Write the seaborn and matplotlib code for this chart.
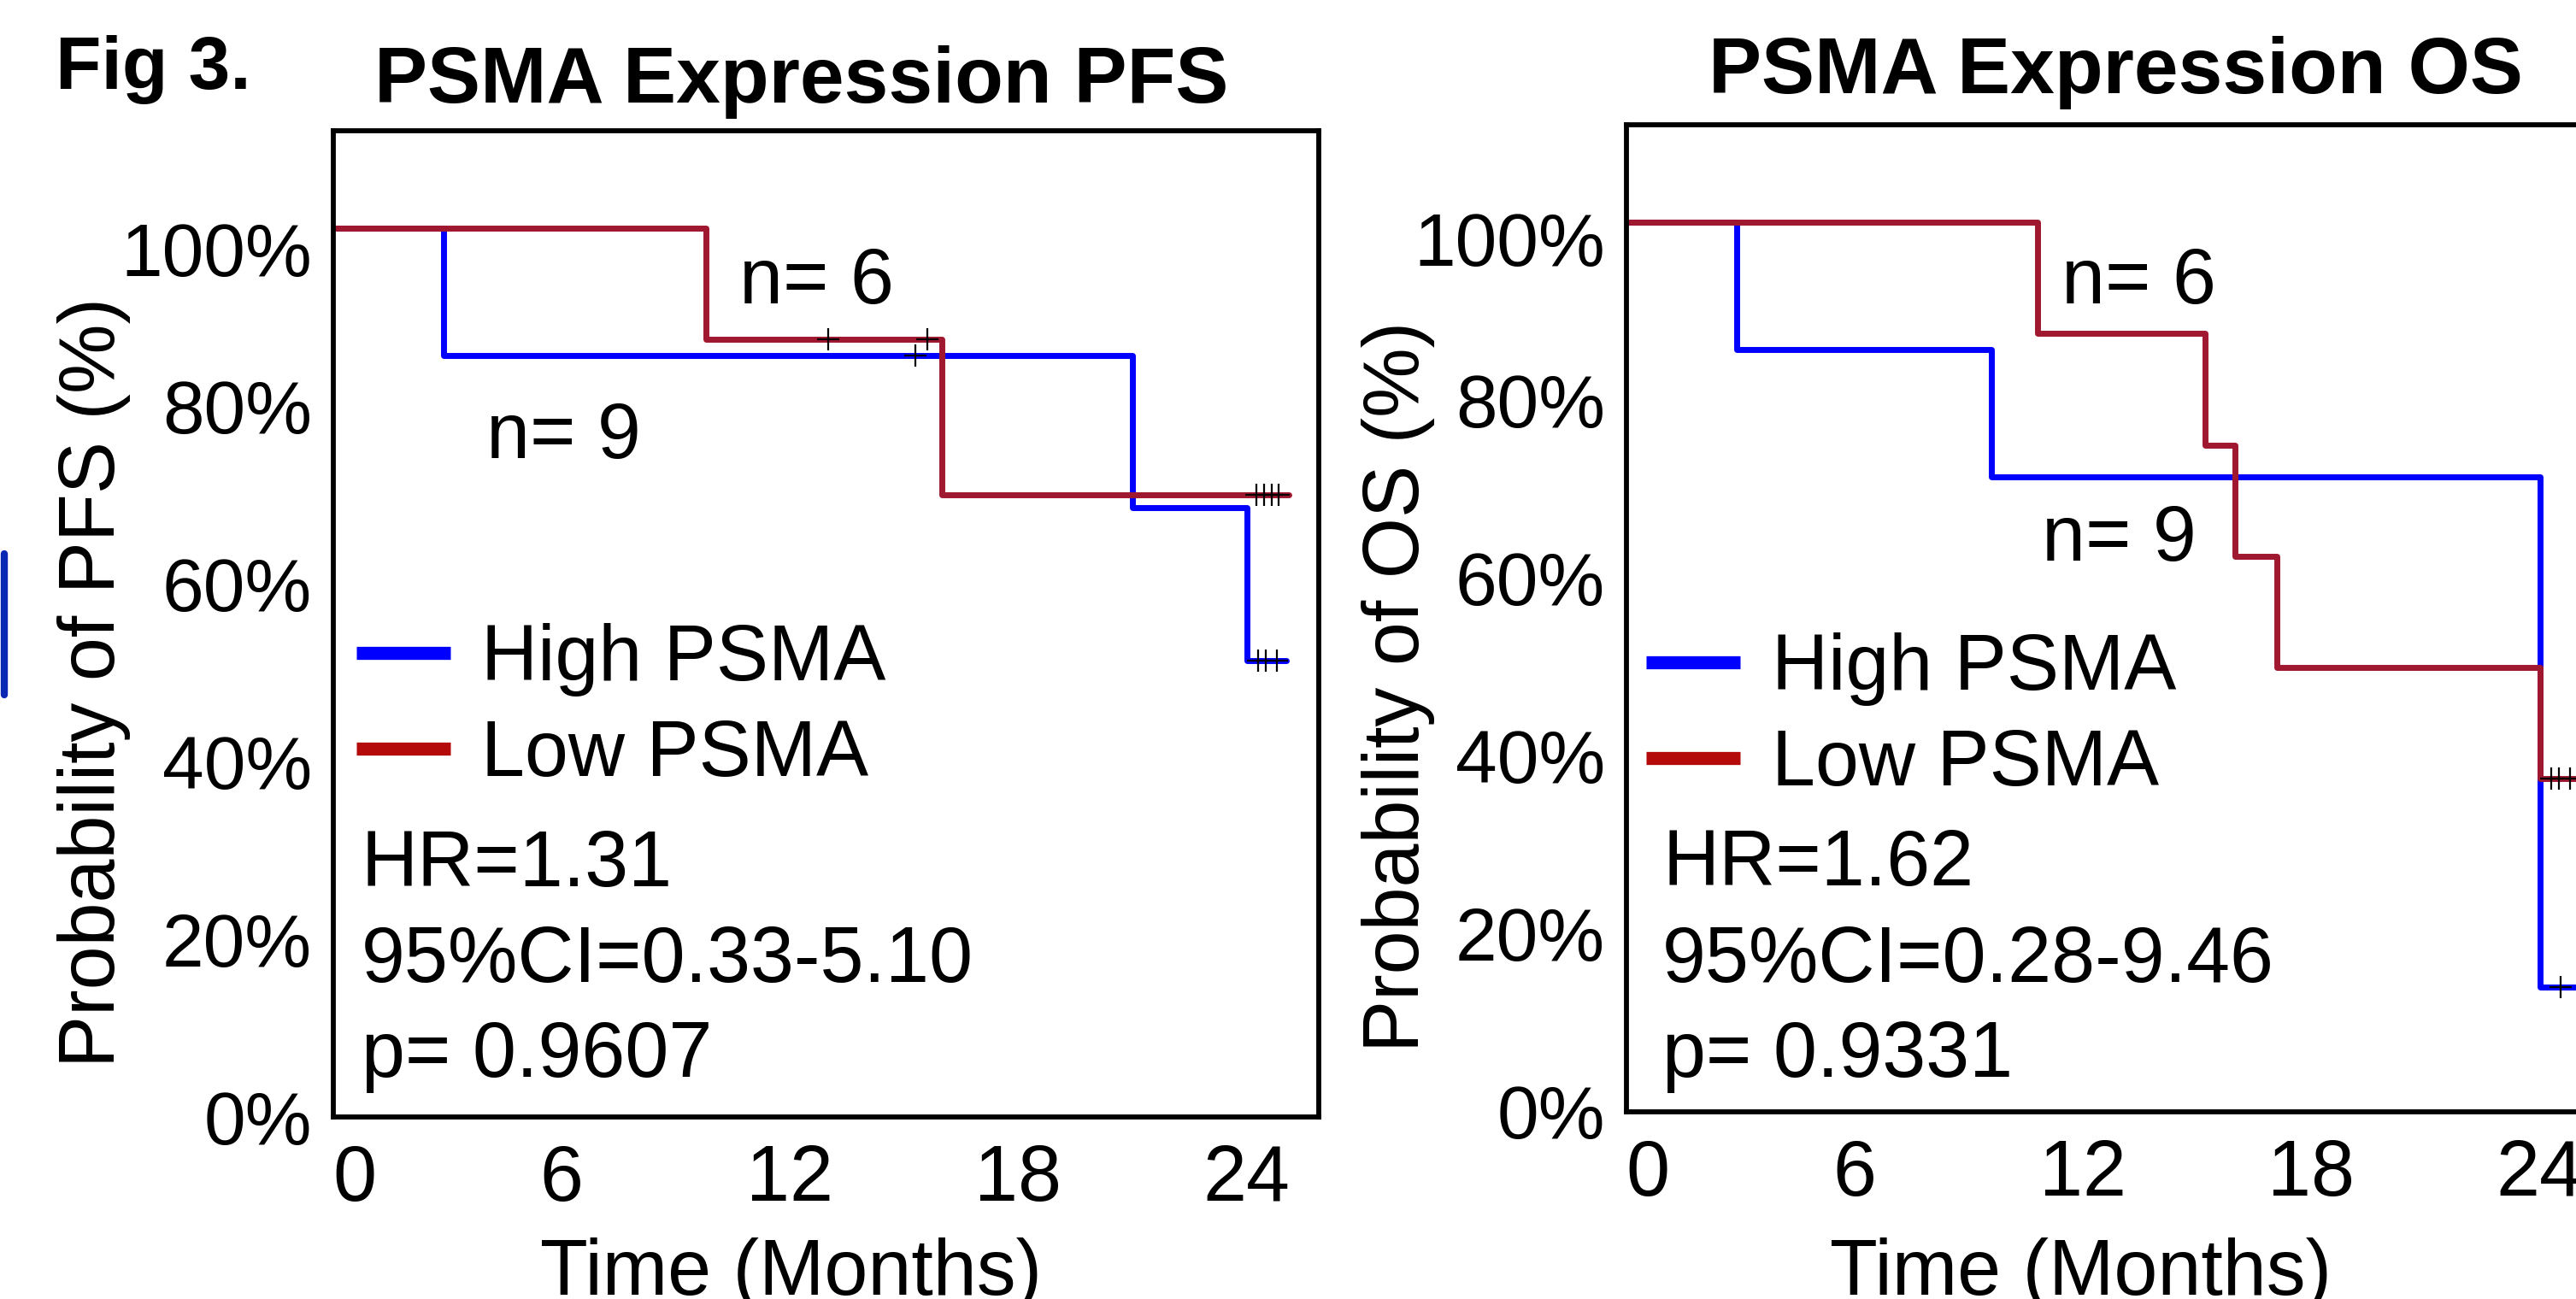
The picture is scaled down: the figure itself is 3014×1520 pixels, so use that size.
import numpy as np
import pandas as pd
import matplotlib.pyplot as plt
import matplotlib.transforms as mtransforms
import seaborn as sns
from matplotlib.lines import Line2D

sns.set_style('white')
plt.rcParams['font.family'] = ['Liberation Sans', 'DejaVu Sans']
plt.rcParams['text.color'] = 'black'
plt.rcParams['axes.labelcolor'] = 'black'
plt.rcParams['xtick.color'] = 'black'
plt.rcParams['ytick.color'] = 'black'

# PFS panel (months, % surviving)
pfs_high_t = [0, 2.9, 21.0, 24.0, 25.05]
pfs_high_s = [100, 85.7, 68.6, 51.4, 51.4]
pfs_low_t = [0, 9.8, 16.0, 25.1]
pfs_low_s = [100, 87.5, 70.0, 70.0]
pfs_high_cens_t = [15.3, 24.3, 24.5, 24.8]
pfs_high_cens_s = [85.7, 51.4, 51.4, 51.4]
pfs_low_cens_t = [13.0, 15.6, 24.25, 24.45, 24.65, 24.85]
pfs_low_cens_s = [87.5, 87.5, 70.0, 70.0, 70.0, 70.0]

# OS panel
os_high_t = [0, 2.9, 9.6, 24.0, 25.1]
os_high_s = [100, 85.7, 71.4, 14.0, 14.0]
os_low_t = [0, 10.8, 15.2, 16.0, 17.1, 24.0, 25.1]
os_low_s = [100, 87.5, 75.0, 62.5, 50.0, 37.5, 37.5]
os_high_cens_t = [24.55]
os_high_cens_s = [14.0]
os_low_cens_t = [24.3, 24.5, 24.8]
os_low_cens_s = [37.5, 37.5, 37.5]

groups = ['High PSMA', 'Low PSMA']
x_ticks = [0, 6, 12, 18, 24]
y_ticks = [0, 20, 40, 60, 80, 100]
y_ticklabels = ['0%', '20%', '40%', '60%', '80%', '100%']

BLUE = '#0000FF'
RED = '#A01830'
RED_LEG = '#B40A0A'
FS = 66
LW = 5

fig = plt.figure(figsize=(30.14, 15.2), dpi=100)
ax1 = fig.add_axes([0.1294, 0.1401, 0.3826, 0.7592])
ax2 = fig.add_axes([0.6314, 0.1441, 0.3826, 0.7599])


def km_panel(ax, hi_t, hi_s, lo_t, lo_s, hi_ct, hi_cs, lo_ct, lo_cs, top_shift):
    sns.lineplot(x=hi_t, y=hi_s, drawstyle='steps-post', estimator=None, sort=False,
                 color=BLUE, linewidth=LW, ax=ax)
    sns.lineplot(x=lo_t, y=lo_s, drawstyle='steps-post', estimator=None, sort=False,
                 color=RED, linewidth=LW, ax=ax)
    sns.scatterplot(x=hi_ct + lo_ct, y=hi_cs + lo_cs, marker='+', s=360, color='k',
                    linewidth=1.6, ax=ax, zorder=3)
    ax.set_xlim(0, 25.9)
    ax.set_ylim(0, 111)
    ax.set_xticks(x_ticks)
    ax.set_xticklabels([str(t) for t in x_ticks])
    ax.set_yticks(y_ticks)
    ax.set_yticklabels(y_ticklabels)
    ax.tick_params(direction='in', length=7, width=0.8, color='#555555',
                   labelcolor='black')
    ax.tick_params(axis='x', pad=22, labelsize=FS)
    ax.tick_params(axis='y', pad=18, labelsize=63)
    # the top label sits a bit low in the original, as does the first x label
    lab = ax.get_yticklabels()[-1]
    lab.set_transform(lab.get_transform() +
                      mtransforms.ScaledTranslation(0, -top_shift, fig.dpi_scale_trans))
    lab = ax.get_xticklabels()[0]
    lab.set_transform(lab.get_transform() +
                      mtransforms.ScaledTranslation(0.25, 0, fig.dpi_scale_trans))
    for sp in ax.spines.values():
        sp.set_visible(True)
        sp.set_color('black')
        sp.set_linewidth(4.2)
    handles = [Line2D([], [], color=BLUE, lw=11, solid_capstyle='butt'),
               Line2D([], [], color=RED_LEG, lw=11, solid_capstyle='butt')]
    return handles


h = km_panel(ax1, pfs_high_t, pfs_high_s, pfs_low_t, pfs_low_s,
             pfs_high_cens_t, pfs_high_cens_s, pfs_low_cens_t, pfs_low_cens_s, 0.24)
ax1.legend(h, groups, loc='upper left', bbox_to_anchor=(0.023, 0.501), frameon=False,
           fontsize=FS, handlelength=1.2, handletextpad=0.4, labelspacing=0.29,
           borderpad=0, borderaxespad=0)
ax1.set_ylabel('Probability of PFS (%)', fontsize=FS)
ax1.yaxis.label.set_va('center')
ax1.yaxis.set_label_coords(-0.243, 0.441)
ax1.set_xlabel('')
ax1.text(0.464, -0.180, 'Time (Months)', transform=ax1.transAxes, fontsize=FS,
         ha='center', va='baseline')
ax1.text(0.475, 1.0286, 'PSMA Expression PFS', transform=ax1.transAxes, fontsize=67,
         fontweight='bold', ha='center', va='baseline')
ax1.text(0.412, 0.825, 'n= 6', transform=ax1.transAxes, fontsize=FS, va='baseline')
ax1.text(0.155, 0.668, 'n= 9', transform=ax1.transAxes, fontsize=FS, va='baseline')
ax1.text(0.0286, 0.234, 'HR=1.31', transform=ax1.transAxes, fontsize=FS, va='baseline')
ax1.text(0.0286, 0.137, '95%CI=0.33-5.10', transform=ax1.transAxes, fontsize=FS, va='baseline')
ax1.text(0.0286, 0.041, 'p= 0.9607', transform=ax1.transAxes, fontsize=FS, va='baseline')

h = km_panel(ax2, os_high_t, os_high_s, os_low_t, os_low_s,
             os_high_cens_t, os_high_cens_s, os_low_cens_t, os_low_cens_s, 0.19)
ax2.legend(h, groups, loc='upper left', bbox_to_anchor=(0.020, 0.486), frameon=False,
           fontsize=FS, handlelength=1.2, handletextpad=0.4, labelspacing=0.29,
           borderpad=0, borderaxespad=0)
ax2.set_ylabel('Probability of OS (%)', fontsize=FS)
ax2.yaxis.label.set_va('center')
ax2.yaxis.set_label_coords(-0.232, 0.431)
ax2.set_xlabel('')
ax2.text(0.4605, -0.185, 'Time (Months)', transform=ax2.transAxes, fontsize=FS,
         ha='center', va='baseline')
ax2.text(0.496, 1.032, 'PSMA Expression OS', transform=ax2.transAxes, fontsize=67,
         fontweight='bold', ha='center', va='baseline')
ax2.text(0.441, 0.819, 'n= 6', transform=ax2.transAxes, fontsize=FS, va='baseline')
ax2.text(0.421, 0.558, 'n= 9', transform=ax2.transAxes, fontsize=FS, va='baseline')
ax2.text(0.0364, 0.229, 'HR=1.62', transform=ax2.transAxes, fontsize=FS, va='baseline')
ax2.text(0.0364, 0.132, '95%CI=0.28-9.46', transform=ax2.transAxes, fontsize=FS, va='baseline')
ax2.text(0.0364, 0.0355, 'p= 0.9331', transform=ax2.transAxes, fontsize=FS, va='baseline')

fig.text(0.0216, 0.9316, 'Fig 3.', fontsize=63, fontweight='bold', ha='left', va='baseline')

# cropped edge of a neighbouring panel on the far left
fig.add_artist(Line2D([0.0018, 0.0018], [0.574, 0.465], color='#0A28B4', lw=6,
                      solid_capstyle='round', transform=fig.transFigure))

fig.savefig('out.png', dpi=100)
